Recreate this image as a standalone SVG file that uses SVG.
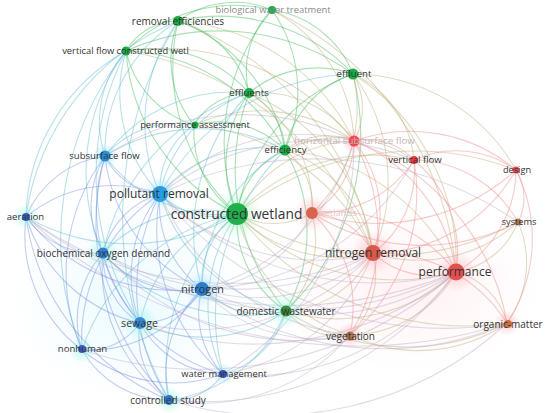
<svg xmlns="http://www.w3.org/2000/svg" width="550" height="413" viewBox="0 0 550 413">
<defs>
<radialGradient id="hr"><stop offset="0" stop-color="#ff8f9a" stop-opacity="0.45"/><stop offset="1" stop-color="#ff8f9a" stop-opacity="0"/></radialGradient>
<radialGradient id="hb"><stop offset="0" stop-color="#7fd8ff" stop-opacity="0.55"/><stop offset="1" stop-color="#7fd8ff" stop-opacity="0"/></radialGradient>
<radialGradient id="hg"><stop offset="0" stop-color="#7fe8a0" stop-opacity="0.5"/><stop offset="1" stop-color="#7fe8a0" stop-opacity="0"/></radialGradient>
<radialGradient id="hc"><stop offset="0" stop-color="#8ff5e0" stop-opacity="0.6"/><stop offset="1" stop-color="#8ff5e0" stop-opacity="0"/></radialGradient>
<radialGradient id="hazeR"><stop offset="0" stop-color="#ffd0d8" stop-opacity="0.3"/><stop offset="1" stop-color="#ffd0d8" stop-opacity="0"/></radialGradient>
<radialGradient id="hazeB"><stop offset="0" stop-color="#d0f4ff" stop-opacity="0.4"/><stop offset="1" stop-color="#d0f4ff" stop-opacity="0"/></radialGradient>
</defs>
<style>
#connectors path{fill:none;stroke-width:1.1}
.gg{stroke:#3dbb5e;stroke-opacity:.45}
.gr{stroke:#bdb07c;stroke-opacity:.45}
.rr{stroke:#f08a8a;stroke-opacity:.45}
.bb{stroke:#6f86df;stroke-opacity:.42}
.gb{stroke:#4fb3c8;stroke-opacity:.4}
.rb{stroke:#b4a6c0;stroke-opacity:.4}
text{font-family:"Open Sans","Liberation Sans",sans-serif;font-size:9.6px;fill:#333;text-anchor:middle}
.g{fill:#18ad45}
</style>
<rect width="550" height="413" fill="#ffffff"/>
<ellipse cx="410" cy="290" rx="130" ry="80" fill="url(#hazeR)"/>
<ellipse cx="130" cy="300" rx="120" ry="100" fill="url(#hazeB)"/>
<g id="connectors">
<path class="gg" d="M237 214A207 207 0 0 1 272 10"/>
<path class="gg" d="M237 214A202 202 0 0 1 178 21"/>
<path class="gg" d="M237 214A197 197 0 0 1 126 51"/>
<path class="gg" d="M237 214A182 182 0 0 1 353 74"/>
<path class="gg" d="M237 214A121 121 0 0 1 249 93"/>
<path class="gg" d="M237 214A99 99 0 0 1 194 125"/>
<path class="gg" d="M237 214A80 80 0 0 1 285 150"/>
<path class="gg" d="M286 311A109 109 0 0 1 237 214"/>
<path class="gg" d="M178 21A95 95 0 0 1 272 10"/>
<path class="gg" d="M126 51A152 152 0 0 1 272 10"/>
<path class="gg" d="M272 10A103 103 0 0 1 353 74"/>
<path class="gg" d="M249 93A86 86 0 0 1 272 10"/>
<path class="gg" d="M272 10A141 141 0 0 1 285 150"/>
<path class="gg" d="M126 51A60 60 0 0 1 178 21"/>
<path class="gg" d="M178 21A183 183 0 0 1 353 74"/>
<path class="gg" d="M178 21A101 101 0 0 1 249 93"/>
<path class="gg" d="M194 125A105 105 0 0 1 178 21"/>
<path class="gg" d="M178 21A168 168 0 0 1 285 150"/>
<path class="gg" d="M126 51A228 228 0 0 1 353 74"/>
<path class="gg" d="M126 51A130 130 0 0 1 249 93"/>
<path class="gg" d="M194 125A100 100 0 0 1 126 51"/>
<path class="gg" d="M126 51A187 187 0 0 1 285 150"/>
<path class="gg" d="M249 93A106 106 0 0 1 353 74"/>
<path class="gg" d="M285 150A102 102 0 0 1 353 74"/>
<path class="gg" d="M249 93A67 67 0 0 1 285 150"/>
<path class="gg" d="M194 125A64 64 0 0 1 249 93"/>
<path class="gg" d="M194 125A94 94 0 0 1 285 150"/>
<path class="gg" d="M285 150A161 161 0 0 1 286 311"/>
<path class="gg" d="M286 311A221 221 0 0 1 249 93"/>
<path class="gg" d="M353 74A246 246 0 0 1 286 311"/>
<path class="gr" d="M237 214A138 138 0 0 1 354 141"/>
<path class="gr" d="M237 214A185 185 0 0 1 414 160"/>
<path class="gr" d="M237 214A282 282 0 0 1 516 170"/>
<path class="gr" d="M518 222A281 281 0 0 1 237 214"/>
<path class="gr" d="M312 213A75 75 0 0 1 237 214"/>
<path class="gr" d="M373 253A141 141 0 0 1 237 214"/>
<path class="gr" d="M456 272A227 227 0 0 1 237 214"/>
<path class="gr" d="M350 335A166 166 0 0 1 237 214"/>
<path class="gr" d="M507 323A291 291 0 0 1 237 214"/>
<path class="gr" d="M353 74A67 67 0 0 1 354 141"/>
<path class="gr" d="M353 74A105 105 0 0 1 414 160"/>
<path class="gr" d="M353 74A180 180 0 0 1 373 253"/>
<path class="gr" d="M353 74A223 223 0 0 1 456 272"/>
<path class="gr" d="M353 74A189 189 0 0 1 516 170"/>
<path class="gr" d="M353 74A145 145 0 0 1 312 213"/>
<path class="gr" d="M285 150A70 70 0 0 1 354 141"/>
<path class="gr" d="M285 150A130 130 0 0 1 414 160"/>
<path class="gr" d="M285 150A135 135 0 0 1 373 253"/>
<path class="gr" d="M285 150A210 210 0 0 1 456 272"/>
<path class="gr" d="M285 150A69 69 0 0 1 312 213"/>
<path class="gr" d="M249 93A115 115 0 0 1 354 141"/>
<path class="gr" d="M249 93A202 202 0 0 1 373 253"/>
<path class="gr" d="M249 93A135 135 0 0 1 312 213"/>
<path class="gr" d="M178 21A213 213 0 0 1 354 141"/>
<path class="gr" d="M178 21A303 303 0 0 1 373 253"/>
<path class="gr" d="M272 10A155 155 0 0 1 354 141"/>
<path class="gr" d="M272 10A320 320 0 0 1 456 272"/>
<path class="gr" d="M126 51A319 319 0 0 1 373 253"/>
<path class="gr" d="M126 51A245 245 0 0 1 354 141"/>
<path class="gr" d="M373 253A105 105 0 0 1 286 311"/>
<path class="gr" d="M456 272A174 174 0 0 1 286 311"/>
<path class="gr" d="M350 335A68 68 0 0 1 286 311"/>
<path class="gr" d="M312 213A101 101 0 0 1 286 311"/>
<path class="gr" d="M507 323A221 221 0 0 1 286 311"/>
<path class="gr" d="M194 125A161 161 0 0 1 354 141"/>
<path class="gr" d="M194 125A220 220 0 0 1 373 253"/>
<path class="rr" d="M354 141A63 63 0 0 1 414 160"/>
<path class="rr" d="M354 141A83 83 0 0 1 312 213"/>
<path class="rr" d="M354 141A114 114 0 0 1 373 253"/>
<path class="rr" d="M354 141A166 166 0 0 1 456 272"/>
<path class="rr" d="M354 141A165 165 0 0 1 516 170"/>
<path class="rr" d="M354 141A194 194 0 0 1 350 335"/>
<path class="rr" d="M354 141A238 238 0 0 1 507 323"/>
<path class="rr" d="M414 160A102 102 0 0 1 516 170"/>
<path class="rr" d="M414 160A102 102 0 0 1 373 253"/>
<path class="rr" d="M414 160A120 120 0 0 1 456 272"/>
<path class="rr" d="M414 160A115 115 0 0 1 312 213"/>
<path class="rr" d="M414 160A121 121 0 0 1 518 222"/>
<path class="rr" d="M414 160A186 186 0 0 1 350 335"/>
<path class="rr" d="M516 170A52 52 0 0 1 518 222"/>
<path class="rr" d="M516 170A118 118 0 0 1 456 272"/>
<path class="rr" d="M516 170A165 165 0 0 1 373 253"/>
<path class="rr" d="M516 170A208 208 0 0 1 312 213"/>
<path class="rr" d="M516 170A153 153 0 0 1 507 323"/>
<path class="gr" d="M518 222A80 80 0 0 1 456 272"/>
<path class="gr" d="M518 222A148 148 0 0 1 373 253"/>
<path class="gr" d="M518 222A102 102 0 0 1 507 323"/>
<path class="rr" d="M518 222A206 206 0 0 1 312 213"/>
<path class="rr" d="M312 213A73 73 0 0 1 373 253"/>
<path class="rr" d="M312 213A156 156 0 0 1 456 272"/>
<path class="rr" d="M312 213A128 128 0 0 1 350 335"/>
<path class="rr" d="M456 272A85 85 0 0 1 373 253"/>
<path class="gr" d="M373 253A85 85 0 0 1 350 335"/>
<path class="rr" d="M373 253A151 151 0 0 1 507 323"/>
<path class="gr" d="M456 272A72 72 0 0 1 507 323"/>
<path class="gr" d="M456 272A123 123 0 0 1 350 335"/>
<path class="gr" d="M507 323A157 157 0 0 1 350 335"/>
<path class="bb" d="M160 194A67 67 0 0 1 105 156"/>
<path class="bb" d="M26 217A100 100 0 0 1 105 156"/>
<path class="bb" d="M103 253A97 97 0 0 1 105 156"/>
<path class="bb" d="M202 289A165 165 0 0 1 105 156"/>
<path class="bb" d="M140 323A171 171 0 0 1 105 156"/>
<path class="bb" d="M82 350A195 195 0 0 1 105 156"/>
<path class="bb" d="M169 400A252 252 0 0 1 105 156"/>
<path class="bb" d="M26 217A136 136 0 0 1 160 194"/>
<path class="bb" d="M103 253A82 82 0 0 1 160 194"/>
<path class="bb" d="M202 289A104 104 0 0 1 160 194"/>
<path class="bb" d="M140 323A130 130 0 0 1 160 194"/>
<path class="bb" d="M82 350A174 174 0 0 1 160 194"/>
<path class="bb" d="M223 374A191 191 0 0 1 160 194"/>
<path class="bb" d="M169 400A206 206 0 0 1 160 194"/>
<path class="bb" d="M103 253A85 85 0 0 1 26 217"/>
<path class="bb" d="M82 350A144 144 0 0 1 26 217"/>
<path class="bb" d="M140 323A156 156 0 0 1 26 217"/>
<path class="bb" d="M169 400A232 232 0 0 1 26 217"/>
<path class="bb" d="M202 289A190 190 0 0 1 26 217"/>
<path class="bb" d="M202 289A105 105 0 0 1 103 253"/>
<path class="bb" d="M140 323A79 79 0 0 1 103 253"/>
<path class="bb" d="M82 350A99 99 0 0 1 103 253"/>
<path class="bb" d="M169 400A161 161 0 0 1 103 253"/>
<path class="bb" d="M223 374A170 170 0 0 1 103 253"/>
<path class="bb" d="M202 289A71 71 0 0 1 140 323"/>
<path class="bb" d="M202 289A135 135 0 0 1 82 350"/>
<path class="bb" d="M223 374A88 88 0 0 1 202 289"/>
<path class="bb" d="M169 400A116 116 0 0 1 202 289"/>
<path class="bb" d="M140 323A64 64 0 0 1 82 350"/>
<path class="bb" d="M169 400A82 82 0 0 1 140 323"/>
<path class="bb" d="M223 374A97 97 0 0 1 140 323"/>
<path class="bb" d="M169 400A100 100 0 0 1 82 350"/>
<path class="bb" d="M223 374A143 143 0 0 1 82 350"/>
<path class="bb" d="M223 374A60 60 0 0 1 169 400"/>
<path class="gb" d="M237 214A144 144 0 0 1 105 156"/>
<path class="gb" d="M237 214A80 80 0 0 1 160 194"/>
<path class="gb" d="M237 214A211 211 0 0 1 26 217"/>
<path class="gb" d="M103 253A140 140 0 0 1 237 214"/>
<path class="gb" d="M202 289A83 83 0 0 1 237 214"/>
<path class="gb" d="M140 323A146 146 0 0 1 237 214"/>
<path class="gb" d="M82 350A206 206 0 0 1 237 214"/>
<path class="gb" d="M223 374A161 161 0 0 1 237 214"/>
<path class="gb" d="M169 400A198 198 0 0 1 237 214"/>
<path class="gb" d="M286 311A87 87 0 0 1 202 289"/>
<path class="gb" d="M286 311A146 146 0 0 1 140 323"/>
<path class="gb" d="M286 311A89 89 0 0 1 223 374"/>
<path class="gb" d="M286 311A147 147 0 0 1 169 400"/>
<path class="gb" d="M286 311A172 172 0 0 1 160 194"/>
<path class="gb" d="M286 311A192 192 0 0 1 103 253"/>
<path class="gb" d="M160 194A133 133 0 0 1 285 150"/>
<path class="gb" d="M160 194A77 77 0 0 1 194 125"/>
<path class="gb" d="M160 194A147 147 0 0 1 126 51"/>
<path class="gb" d="M160 194A174 174 0 0 1 178 21"/>
<path class="gb" d="M160 194A135 135 0 0 1 249 93"/>
<path class="gb" d="M160 194A227 227 0 0 1 353 74"/>
<path class="gb" d="M105 156A107 107 0 0 1 126 51"/>
<path class="gb" d="M105 156A153 153 0 0 1 178 21"/>
<path class="gb" d="M105 156A94 94 0 0 1 194 125"/>
<path class="gb" d="M105 156A157 157 0 0 1 249 93"/>
<path class="gb" d="M105 156A180 180 0 0 1 285 150"/>
<path class="gb" d="M26 217A194 194 0 0 1 126 51"/>
<path class="gb" d="M26 217A248 248 0 0 1 178 21"/>
<path class="gb" d="M103 253A203 203 0 0 1 126 51"/>
<path class="gb" d="M103 253A217 217 0 0 1 249 93"/>
<path class="gb" d="M202 289A162 162 0 0 1 285 150"/>
<path class="gb" d="M202 289A202 202 0 0 1 249 93"/>
<path class="gb" d="M140 323A272 272 0 0 1 126 51"/>
<path class="gb" d="M223 374A232 232 0 0 1 285 150"/>
<path class="gb" d="M169 400A379 379 0 0 1 178 21"/>
<path class="gb" d="M82 350A302 302 0 0 1 126 51"/>
<path class="rb" d="M373 253A175 175 0 0 1 202 289"/>
<path class="rb" d="M456 272A255 255 0 0 1 202 289"/>
<path class="rb" d="M312 213A134 134 0 0 1 202 289"/>
<path class="rb" d="M350 335A155 155 0 0 1 202 289"/>
<path class="rb" d="M373 253A243 243 0 0 1 140 323"/>
<path class="rb" d="M456 272A320 320 0 0 1 140 323"/>
<path class="rb" d="M350 335A133 133 0 0 1 223 374"/>
<path class="rb" d="M373 253A193 193 0 0 1 223 374"/>
<path class="rb" d="M456 272A254 254 0 0 1 223 374"/>
<path class="rb" d="M456 272A314 314 0 0 1 169 400"/>
<path class="rb" d="M350 335A192 192 0 0 1 169 400"/>
<path class="rb" d="M507 323A347 347 0 0 1 169 400"/>
<path class="rb" d="M456 272A382 382 0 0 1 82 350"/>
<path class="rb" d="M507 323A492 492 0 0 1 26 217"/>
<path class="rb" d="M373 253A349 349 0 0 1 26 217"/>
<path class="rb" d="M456 272A434 434 0 0 1 26 217"/>
<path class="rb" d="M373 253A270 270 0 0 1 103 253"/>
<path class="rb" d="M456 272A354 354 0 0 1 103 253"/>
<path class="rb" d="M373 253A221 221 0 0 1 160 194"/>
<path class="rb" d="M456 272A306 306 0 0 1 160 194"/>
<path class="rb" d="M160 194A201 201 0 0 1 354 141"/>
<path class="rb" d="M105 156A249 249 0 0 1 354 141"/>
<path class="rb" d="M354 141A212 212 0 0 1 202 289"/>
<path class="rb" d="M354 141A267 267 0 0 1 223 374"/>
<path class="rb" d="M350 335A237 237 0 0 1 160 194"/>
<path class="rb" d="M350 335A260 260 0 0 1 103 253"/>
<path class="rb" d="M507 323A307 307 0 0 1 202 289"/>
<path class="rb" d="M507 323A370 370 0 0 1 160 194"/>
<path class="rb" d="M160 194A359 359 0 0 1 518 222"/>
<path class="rb" d="M160 194A256 256 0 0 1 414 160"/>
<path class="rb" d="M414 160A248 248 0 0 1 202 289"/>
</g>
<g id="halos">
<circle cx="237" cy="214" r="24" fill="url(#hg)"/>
<circle cx="160" cy="194" r="18" fill="url(#hb)"/>
<circle cx="105" cy="156" r="13" fill="url(#hb)"/>
<circle cx="26" cy="217" r="13" fill="url(#hc)"/>
<circle cx="103" cy="253" r="16" fill="url(#hc)"/>
<circle cx="202" cy="289" r="18" fill="url(#hb)"/>
<circle cx="140" cy="323" r="18" fill="url(#hc)"/>
<circle cx="82" cy="350" r="13" fill="url(#hc)"/>
<circle cx="223" cy="374" r="11" fill="url(#hb)"/>
<circle cx="169" cy="400" r="14" fill="url(#hc)"/>
<circle cx="286" cy="311" r="18" fill="url(#hc)"/>
<circle cx="312" cy="213" r="18" fill="url(#hr)"/>
<circle cx="373" cy="253" r="22" fill="url(#hr)"/>
<circle cx="456" cy="272" r="20" fill="url(#hr)"/>
<circle cx="354" cy="141" r="13" fill="url(#hr)"/>
<circle cx="350" cy="335" r="13" fill="url(#hr)"/>
<circle cx="507" cy="323" r="13" fill="url(#hr)"/>
</g>
<g id="n-biological-water-treatment"><circle cx="272" cy="10" r="4" class="g"/><text x="273" y="13.3" style="font-size:9.4px;fill:#8a8a8a">biological water treatment</text></g>
<g id="n-removal-efficiencies"><circle cx="178" cy="21" r="5" class="g"/><text x="178" y="24.5" style="font-size:10px">removal efficiencies</text></g>
<g id="n-vertical-flow-constructed-wetl"><circle cx="126" cy="51" r="4.5" class="g"/><text x="125.5" y="54.3" style="font-size:9.3px">vertical flow constructed wetl</text></g>
<g id="n-effluent"><circle cx="353" cy="74" r="5.5" class="g"/><text x="354" y="77.4">effluent</text></g>
<g id="n-effluents"><circle cx="249" cy="93" r="5" class="g"/><text x="249" y="96.4">effluents</text></g>
<g id="n-performance-assessment"><circle cx="195" cy="125" r="3.5" class="g"/><text x="195" y="128.3" style="font-size:9.3px">performance assessment</text></g>
<g id="n-efficiency"><circle cx="285" cy="150" r="5.5" class="g"/><text x="285.5" y="153.4">efficiency</text></g>
<g id="n-horizontal-subsurface-flow"><circle cx="354" cy="141" r="5.5" style="fill:#ef4a50"/><text x="354.5" y="144.4" style="fill:#c9b4b6;font-size:9.8px">horizontal subsurface flow</text></g>
<g id="n-vertical-flow"><circle cx="414" cy="160" r="4" style="fill:#e63a3e"/><text x="415" y="163.4">vertical flow</text></g>
<g id="n-design"><circle cx="516" cy="170" r="3.5" style="fill:#e84a4a"/><text x="517" y="173.2" style="font-size:9.2px">design</text></g>
<g id="n-systems"><circle cx="518" cy="222" r="3.5" style="fill:#b97a55"/><text x="519" y="225.2" style="font-size:9.2px">systems</text></g>
<g id="n-wetlands"><circle cx="312" cy="213" r="6" style="fill:#d9644e"/><text x="337" y="216.4" style="fill:#e6c6c6;font-size:9.4px">wetlands</text></g>
<g id="n-subsurface-flow"><circle cx="105" cy="156" r="5.5" style="fill:#2a8fd8"/><text x="104.5" y="159.4">subsurface flow</text></g>
<g id="n-pollutant-removal"><circle cx="160" cy="194" r="8" style="fill:#279ce0"/><text x="159" y="198.2" style="font-size:12px">pollutant removal</text></g>
<g id="n-aeration"><circle cx="26" cy="217" r="4" style="fill:#3b5cc4"/><text x="25.5" y="220.4">aeration</text></g>
<g id="n-constructed-wetland"><circle cx="237" cy="214" r="11" style="fill:#1fb04c"/><text x="236.5" y="219" style="font-size:13.8px">constructed wetland</text></g>
<g id="n-biochemical-oxygen-demand"><circle cx="103" cy="253" r="5.5" style="fill:#2f7ed0"/><text x="103.5" y="256.5" style="font-size:10px">biochemical oxygen demand</text></g>
<g id="n-nitrogen-removal"><circle cx="373" cy="253" r="8" style="fill:#d65a4a"/><text x="373" y="257.2" style="font-size:12px">nitrogen removal</text></g>
<g id="n-performance"><circle cx="456" cy="272" r="8.5" style="fill:#e35050"/><text x="455" y="276.2" style="font-size:12px">performance</text></g>
<g id="n-nitrogen"><circle cx="202" cy="289" r="7" style="fill:#2a7ccc"/><text x="202.5" y="292.8" style="font-size:10.8px">nitrogen</text></g>
<g id="n-domestic-wastewater"><circle cx="286" cy="311" r="5.5" style="fill:#3a8a3a"/><text x="286" y="314.5" style="font-size:10px">domestic wastewater</text></g>
<g id="n-sewage"><circle cx="140" cy="323" r="6" style="fill:#3a87d8"/><text x="139.5" y="326.7" style="font-size:10.6px">sewage</text></g>
<g id="n-vegetation"><circle cx="350" cy="336" r="4.5" style="fill:#a8764f"/><text x="350.5" y="339.5" style="font-size:10px">vegetation</text></g>
<g id="n-organic-matter"><circle cx="508" cy="324" r="4" style="fill:#c46d40"/><text x="508" y="327.5" style="font-size:10px">organic-matter</text></g>
<g id="n-nonhuman"><circle cx="82" cy="349" r="4" style="fill:#4358c4"/><text x="82.5" y="352.4">nonhuman</text></g>
<g id="n-water-management"><circle cx="223" cy="374" r="4" style="fill:#3e4fb5"/><text x="224" y="377.3" style="font-size:9.4px">water management</text></g>
<g id="n-controlled-study"><circle cx="169" cy="400" r="5" style="fill:#3377cc"/><text x="168" y="403.5" style="font-size:10px">controlled study</text></g>
</svg>
